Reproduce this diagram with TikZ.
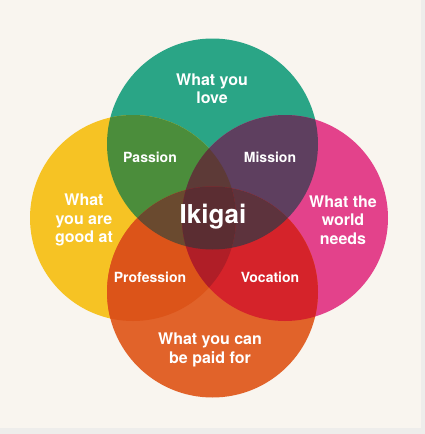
\documentclass[tikz,border=0pt]{standalone}
\usepackage{fontspec}
\setmainfont{TeX Gyre Heros}
\usepackage{tikz}

%% colours of the four circles and of their overlaps
\definecolor{paper}{HTML}{F9F5EF}
\definecolor{frame}{HTML}{EEEDEB}
\definecolor{cG}{HTML}{2AA586}
\definecolor{cY}{HTML}{F6C324}
\definecolor{cP}{HTML}{E3428B}
\definecolor{cO}{HTML}{E1632A}
\definecolor{cGY}{HTML}{4B8D3B}
\definecolor{cGP}{HTML}{5E3F5F}
\definecolor{cYO}{HTML}{DC5419}
\definecolor{cPO}{HTML}{D5232A}
\definecolor{cGYO}{HTML}{6A4A2F}
\definecolor{cGPO}{HTML}{5D333D}
\definecolor{cGYP}{HTML}{5D3A37}
\definecolor{cYPO}{HTML}{B01E27}
\definecolor{cAll}{HTML}{5B2D32}

\tikzset{
  label/.style={text=white, font=\bfseries\fontsize{16}{18.3}\selectfont, align=center, inner sep=0pt},
  small/.style={text=white, font=\bfseries\fontsize{14}{16}\selectfont, inner sep=0pt},
  big/.style={text=white, font=\bfseries\fontsize{26}{30}\selectfont, inner sep=0pt}
}

\begin{document}
\begin{tikzpicture}[x=1pt,y=-1pt]
  %% Background and size of the picture
  \fill[frame] (0,0) rectangle (425,434);
  \fill[paper] (0,0) rectangle (421,428);
  \useasboundingbox (0,0) rectangle (425,434);

  %% Centres and radii of the circles
  \coordinate (G) at (212.5,144);
  \coordinate (Y) at (133,218);
  \coordinate (P) at (285,218);
  \coordinate (O) at (212.5,292);
  \def\rG{105.5pt} \def\rY{103pt} \def\rP{103pt} \def\rO{105.5pt}

  %% Single circles
  \foreach \c in {G,Y,P,O}
  {
    \fill[c\c] (\c) circle[radius=\csname r\c\endcsname];
  }

  %% Overlaps of two circles
  \foreach \a/\b in {G/Y,G/P,Y/O,P/O}
  {
    \begin{scope}
      \clip (\a) circle[radius=\csname r\a\endcsname];
      \fill[c\a\b] (\b) circle[radius=\csname r\b\endcsname];
    \end{scope}
  }

  %% Overlaps of three circles
  \foreach \a/\b/\c in {G/Y/O,G/P/O,G/Y/P,Y/P/O}
  {
    \begin{scope}
      \clip (\a) circle[radius=\csname r\a\endcsname];
      \clip (\b) circle[radius=\csname r\b\endcsname];
      \fill[c\a\b\c] (\c) circle[radius=\csname r\c\endcsname];
    \end{scope}
  }

  %% All four
  \begin{scope}
    \clip (G) circle[radius=\rG];
    \clip (Y) circle[radius=\rY];
    \clip (P) circle[radius=\rP];
    \fill[cAll] (O) circle[radius=\rO];
  \end{scope}

  %% Texts
  \node[label] (love)   at (212,89)  {What you\\love};
  \node[label] (good)   at (84,220)  {What\\you are\\good at};
  \node[label] (needs)  at (343,220) {What the\\world\\needs};
  \node[label] (paid)   at (210,350) {What you can\\be paid for};
  \node[small] (passion)    at (150,157) {Passion};
  \node[small] (mission)    at (270,157) {Mission};
  \node[small] (profession) at (150,277) {Profession};
  \node[small] (vocation)   at (270,277) {Vocation};
  \node[big]   (ikigai)     at (213,217) {Ikigai};
\end{tikzpicture}
\end{document}
